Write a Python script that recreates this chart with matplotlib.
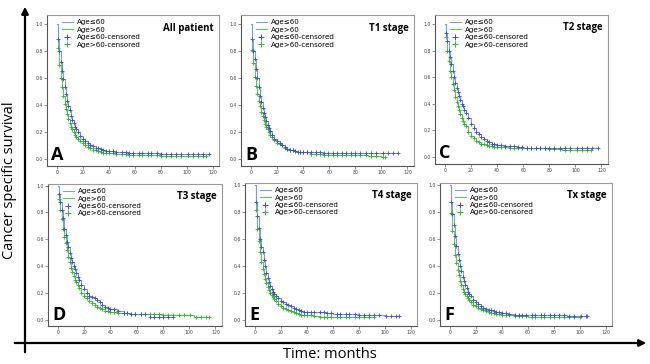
import numpy as np
import matplotlib
matplotlib.use("Agg")
import matplotlib.pyplot as plt
from matplotlib.lines import Line2D

months = [0, 1, 2, 3, 4, 5, 6, 7, 8, 9, 10, 11, 12, 13, 14, 15, 16, 18, 20, 22, 24, 26, 28,
          30, 32, 34, 36, 38, 40, 45, 50, 55, 60, 70, 80, 90, 100, 104]

panels = ["All patient", "T1 stage", "T2 stage", "T3 stage", "T4 stage", "Tx stage"]
letters = ["A", "B", "C", "D", "E", "F"]

young_all = [1.0, .89, .80, .72, .65, .59, .53, .48, .43, .39, .36, .32, .29, .265, .24, .22, .20,
             .17, .15, .135, .12, .105, .095, .085, .078, .072, .066, .06, .056,
             .052, .05, .047, .045, .043, .04, .04, .04, .04]
old_all = [1.0, .82, .70, .60, .53, .47, .41, .37, .33, .30, .27, .24, .22, .20, .18, .165, .15,
           .13, .115, .10, .09, .08, .07, .063, .056, .052, .048, .045, .042,
           .038, .035, .032, .03, .028, .025, .023, .02, .02]

young_t1 = [1.0, .89, .80, .74, .67, .60, .53, .47, .42, .38, .34, .31, .28, .255, .23, .205, .18,
            .15, .13, .115, .10, .088, .075, .07, .065, .06, .055, .052, .05,
            .05, .05, .048, .045, .045, .045, .045, .045, .045]
old_t1 = [1.0, .81, .71, .61, .54, .48, .43, .39, .35, .32, .29, .26, .24, .22, .20, .18, .16,
          .14, .12, .11, .10, .085, .075, .07, .065, .06, .055, .05, .05,
          .04, .035, .032, .03, .03, .03, .025, .015, .015]

young_t2 = [1.0, .93, .87, .80, .75, .70, .65, .60, .56, .52, .49, .46, .43, .40, .38, .35, .33,
            .29, .25, .22, .19, .17, .15, .135, .12, .11, .10, .095, .09,
            .085, .08, .075, .07, .07, .07, .07, .07, .07]
old_t2 = [1.0, .90, .80, .72, .65, .60, .55, .50, .45, .41, .38, .35, .32, .29, .27, .25, .23,
          .19, .16, .14, .12, .11, .10, .095, .09, .085, .08, .078, .075,
          .072, .07, .07, .07, .065, .06, .055, .05, .05]

young_t3 = [1.0, .94, .88, .82, .76, .68, .63, .58, .54, .50, .46, .43, .40, .38, .35, .32, .30,
            .26, .23, .20, .18, .17, .16, .145, .13, .115, .10, .09, .08,
            .07, .05, .048, .045, .025, .025, .025, .025, .025]
old_t3 = [1.0, .90, .82, .75, .68, .62, .57, .52, .47, .43, .39, .36, .33, .30, .28, .26, .24,
          .20, .18, .16, .14, .125, .11, .10, .09, .08, .07, .065, .06,
          .055, .05, .048, .045, .042, .04, .04, .04, .025]

young_t4 = [1.0, .87, .77, .68, .60, .54, .50, .44, .40, .35, .31, .28, .25, .23, .21, .195, .18,
            .16, .14, .13, .12, .11, .10, .09, .08, .075, .065, .062, .06,
            .058, .055, .05, .045, .045, .04, .04, .03, .03]
old_t4 = [1.0, .81, .67, .58, .50, .43, .38, .34, .30, .27, .24, .22, .20, .185, .17, .155, .14,
          .12, .10, .09, .08, .072, .065, .058, .05, .045, .04, .038, .035,
          .03, .02, .02, .02, .02, .02, .02, .02, .02]

young_tx = [1.0, .87, .78, .70, .62, .55, .49, .44, .40, .36, .32, .29, .26, .235, .21, .195, .18,
            .15, .13, .115, .10, .09, .08, .075, .07, .065, .06, .055, .05,
            .045, .04, .038, .035, .035, .035, .03, .03, .03]
old_tx = [1.0, .79, .66, .56, .48, .42, .37, .33, .29, .26, .23, .21, .19, .175, .16, .145, .13,
          .11, .10, .09, .08, .072, .065, .058, .05, .048, .045, .042, .04,
          .035, .03, .028, .025, .022, .02, .02, .02, .02]

young_sets = [young_all, young_t1, young_t2, young_t3, young_t4, young_tx]
old_sets = [old_all, old_t1, old_t2, old_t3, old_t4, old_tx]

# last follow-up time for each group
young_end = [117, 113, 117, 88, 111, 106]
old_end = [115, 103, 112, 115, 92, 100]

# late censored observations (months)
late_censor = [43, 46, 50, 53, 56, 59, 63, 66, 70, 73, 77, 80, 84, 88, 92, 96, 101, 105, 109, 113]

blue_line = "#8a96e6"
blue_mark = "#3d4fc6"
green_line = "#5ccc5c"
green_mark = "#2fb52f"

W, H = 650, 364
fig = plt.figure(figsize=(W / 100, H / 100), dpi=100)

# axes boxes in pixels: left, top, right, bottom
boxes = [(47, 15, 219, 166), (241, 15, 414, 166), (435, 15, 608, 164),
         (48, 184, 222, 326), (245, 183, 417, 326), (440, 183, 612, 326)]


def step_value(t, s, x):
    idx = np.searchsorted(t, x, side="right") - 1
    return np.asarray(s)[idx]


def draw_group(ax, s, end, lc, mc):
    assert len(s) == len(months)
    t = np.array(months + [end], dtype=float)
    keep = t <= end
    sv = np.array(s + [s[-1]])
    t, sv = t[keep], sv[keep]
    ax.step(t, sv, where="post", color=lc, lw=0.8, zorder=2)
    cens = [m for m in months[1:] if m <= 40] + [c for c in late_censor if c < end] + [end]
    cy = step_value(t, sv, np.array(cens, dtype=float))
    ax.plot(cens, cy, ls="none", marker="+", ms=2.5, mew=0.6, color=mc, zorder=3)


for i, (l, t, r, b) in enumerate(boxes):
    ax = fig.add_axes([l / W, 1 - b / H, (r - l) / W, (b - t) / H])
    draw_group(ax, old_sets[i], old_end[i], green_line, green_mark)
    draw_group(ax, young_sets[i], young_end[i], blue_line, blue_mark)
    ax.set_xlim(-7.5, 125)
    if i < 3:
        ax.set_ylim(-0.052, 1.067)
    else:
        ax.set_ylim(-0.045, 1.012)
    ax.set_xticks([0, 20, 40, 60, 80, 100, 120])
    ax.set_yticks([0.0, 0.2, 0.4, 0.6, 0.8, 1.0])
    ax.set_yticklabels(["0.0", "0.2", "0.4", "0.6", "0.8", "1.0"])
    ax.tick_params(labelsize=3.3, length=2, width=0.4, pad=1, colors="#444444")
    for sp in ax.spines.values():
        sp.set_color("#9a9a9a")
        sp.set_linewidth(0.8)
    ax.spines["left"].set_color("#555555")
    ax.spines["bottom"].set_color("#555555")
    ax.text(0.97, 0.95, panels[i], transform=ax.transAxes, ha="right", va="top",
            fontsize=7, fontweight="bold", family="Open Sans")
    ax.text(0.025, 0.015, letters[i], transform=ax.transAxes, ha="left", va="bottom",
            fontsize=13, fontweight="bold", family="Open Sans")
    handles = [Line2D([], [], color=blue_line, lw=0.8),
               Line2D([], [], color=green_line, lw=0.8),
               Line2D([], [], color=blue_mark, ls="none", marker="+", ms=4, mew=0.7),
               Line2D([], [], color=green_mark, ls="none", marker="+", ms=4, mew=0.7)]
    ax.legend(handles, ["Age\u226460", "Age>60", "Age\u226460-censored", "Age>60-censored"],
              loc="upper left", bbox_to_anchor=(0.06, 1.0), frameon=False, fontsize=5.1,
              handlelength=1.6, handletextpad=0.5, labelspacing=0.2, borderaxespad=0.2)

# overlay for the big outer axes arrows
ov = fig.add_axes([0, 0, 1, 1], facecolor="none")
ov.set_xlim(0, W)
ov.set_ylim(H, 0)
ov.axis("off")
ov.annotate("", xy=(25, 4), xytext=(25, 355),
            arrowprops=dict(arrowstyle="-|>", color="black", lw=1.6, mutation_scale=10))
ov.annotate("", xy=(649, 343), xytext=(12, 343),
            arrowprops=dict(arrowstyle="-|>", color="black", lw=1.6, mutation_scale=10))
ov.text(10, 180, "Cancer specific survival", rotation=90, ha="center", va="center",
        fontsize=10.5, family="Open Sans")
ov.text(330, 355, "Time: months", ha="center", va="center", fontsize=10.5, family="Open Sans")

fig.savefig("out.png", dpi=100)
